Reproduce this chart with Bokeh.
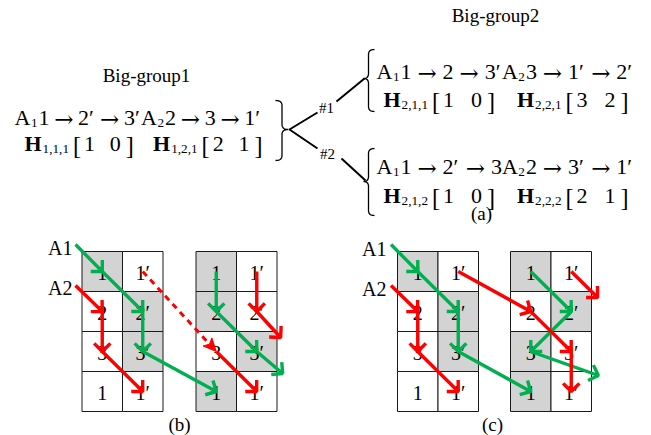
import numpy as np
from bokeh.plotting import figure
from bokeh.models import Range1d
from bokeh.embed import file_html
from bokeh.resources import INLINE
from bokeh.core.properties import value

FONT = "Liberation Serif"
ARROW_FONT = "DejaVu Serif"
GREEN = "#00B050"
RED = "#FF0000"
GRAY = "#D3D3D3"

# ---------------- data ----------------
cell_labels = [["1", "1′"], ["2", "2′"], ["3", "3′"], ["1", "1′"]]
grid_names = ["bL", "bR", "cL", "cR"]
shade_bL = [[1, 0], [0, 1], [0, 1], [0, 0]]
shade_bR = [[1, 0], [1, 0], [0, 1], [1, 0]]
shade_cL = [[1, 0], [0, 1], [0, 1], [0, 0]]
shade_cR = [[1, 0], [0, 1], [1, 0], [1, 0]]
shades = {"bL": shade_bL, "bR": shade_bR, "cL": shade_cL, "cR": shade_cR}

# paths as (grid, row, col) nodes; arrow head at every node after the first
green_paths = [
    [("bL", -0.675, -0.66), ("bL", 0, 0), ("bL", 1, 1), ("bL", 2, 1), ("bR", 3, 0)],
    [("bR", 0, 0), ("bR", 1, 0), ("bR", 2, 1), ("bR", 2.55, 1.64)],
    [("cL", -0.675, -0.66), ("cL", 0, 0), ("cL", 1, 1), ("cL", 2, 1), ("cR", 3, 0)],
    [("cR", 0, 0), ("cR", 1, 1), ("cR", 2, 0), ("cR", 2.6, 1.67)],
]
red_paths = [
    [("bL", 0.35, -0.66), ("bL", 1, 0), ("bL", 2, 0), ("bL", 3, 1)],
    [("bR", 0, 1), ("bR", 1, 1), ("bR", 1.65, 1.59)],
    [("bR", 2, 0), ("bR", 3, 1)],
    [("cL", 0.35, -0.66), ("cL", 1, 0), ("cL", 2, 0), ("cL", 3, 1)],
    [("cL", 0, 1), ("cR", 1, 0), ("cR", 2, 1), ("cR", 3, 1)],
    [("cR", 0, 1), ("cR", 0.65, 1.65)],
]
dashed_path = [("bL", 0, 1), ("bR", 2, 0)]

# formula token lists: (text, kind, gap-before)
g1_line1 = [("A", "n", 0), ("1", "s", 0.5), ("1", "n", 1), ("→", "a", "g"), ("2′", "n", "g"),
            ("→", "a", "g"), ("3′", "n", "g"), ("A", "n", 0), ("2", "s", 0.5), ("2", "n", 1),
            ("→", "a", "g"), ("3", "n", "g"), ("→", "a", "g"), ("1′", "n", "g")]
g1_line2 = [("H", "b", 0), ("1,1,1", "s", 1), ("[", "k", 4), ("1", "n", 3), ("0", "n", "g"), ("]", "k", 5),
            ("H", "b", "G"), ("1,2,1", "s", 1), ("[", "k", 4), ("2", "n", 3), ("1", "n", "g"), ("]", "k", 5)]
g21_line1 = [("A", "n", 0), ("1", "s", 0.5), ("1", "n", 1), ("→", "a", "g"), ("2", "n", "g"),
             ("→", "a", "g"), ("3′", "n", "g"), ("A", "n", 0), ("2", "s", 0.5), ("3", "n", 1),
             ("→", "a", "g"), ("1′", "n", "g"), ("→", "a", "g"), ("2′", "n", "g")]
g21_line2 = [("H", "b", 0), ("2,1,1", "s", 1), ("[", "k", 4), ("1", "n", 3), ("0", "n", "g"), ("]", "k", 5),
             ("H", "b", "G"), ("2,2,1", "s", 1), ("[", "k", 4), ("3", "n", 3), ("2", "n", "g"), ("]", "k", 5)]
g22_line1 = [("A", "n", 0), ("1", "s", 0.5), ("1", "n", 1), ("→", "a", "g"), ("2′", "n", "g"),
             ("→", "a", "g"), ("3", "n", "g"), ("A", "n", 0), ("2", "s", 0.5), ("2", "n", 1),
             ("→", "a", "g"), ("3′", "n", "g"), ("→", "a", "g"), ("1′", "n", "g")]
g22_line2 = [("H", "b", 0), ("2,1,2", "s", 1), ("[", "k", 4), ("1", "n", 3), ("0", "n", "g"), ("]", "k", 5),
             ("H", "b", "G"), ("2,2,2", "s", 1), ("[", "k", 4), ("2", "n", 3), ("1", "n", "g"), ("]", "k", 5)]

# ---------------- layout constants ----------------
GRID_LEFT = {"bL": 81.5, "bR": 195.5, "cL": 397.0, "cR": 510.0}
TOP = 251.0
CW = 40.5
CH = 40.0
FS = 22.0

p = figure(width=651, height=435, x_range=Range1d(0, 651), y_range=Range1d(435, 0),
           output_backend="svg", toolbar_location=None, min_border=0,
           min_border_left=0, min_border_right=0, min_border_top=0, min_border_bottom=0)
p.xaxis.visible = False
p.yaxis.visible = False
p.grid.visible = False
p.outline_line_color = None
p.background_fill_color = "white"


def node_xy(n):
    g, r, c = n
    return GRID_LEFT[g] + (c + 0.5) * CW, TOP + (r + 0.5) * CH


# ---- grids ----
L, R, T, B, F = [], [], [], [], []
tx, ty, tt = [], [], []
for g in grid_names:
    for r in range(4):
        for c in range(2):
            x0 = GRID_LEFT[g] + c * CW
            y0 = TOP + r * CH
            L.append(x0); R.append(x0 + CW); T.append(y0); B.append(y0 + CH)
            F.append(GRAY if shades[g][r][c] else "white")
            tx.append(x0 + CW / 2); ty.append(y0 + CH / 2 + 1); tt.append(cell_labels[r][c])
p.quad(left=L, right=R, top=T, bottom=B, fill_color=F, line_color="#1a1a1a", line_width=1)
p.text(tx, ty, text=tt, text_align="center", text_baseline="middle",
       text_font=value(FONT), text_font_size="20px", text_color="black")

# ---- arrows ----
WING = 11.5


def heads(pts):
    hx, hy = [], []
    for (x0, y0), (x1, y1) in zip(pts[:-1], pts[1:]):
        d = np.array([x0 - x1, y0 - y1])
        d = d / np.hypot(*d)
        out_x, out_y = [], []
        for ang in (np.pi / 4, -np.pi / 4):
            ca, sa = np.cos(ang), np.sin(ang)
            w = np.array([ca * d[0] - sa * d[1], sa * d[0] + ca * d[1]])
            out_x.append(x1 + WING * w[0]); out_y.append(y1 + WING * w[1])
        hx.append([out_x[0], x1, out_x[1]]); hy.append([out_y[0], y1, out_y[1]])
    return hx, hy


for paths, col in ((green_paths, GREEN), (red_paths, RED)):
    xs, ys, hxs, hys = [], [], [], []
    for path in paths:
        pts = [node_xy(n) for n in path]
        xs.append([q[0] for q in pts]); ys.append([q[1] for q in pts])
        hx, hy = heads(pts)
        hxs += hx; hys += hy
    p.multi_line(xs, ys, line_color=col, line_width=3.4)
    p.multi_line(hxs, hys, line_color=col, line_width=3.4)

dpts = [node_xy(n) for n in dashed_path]
(x0, y0), (x1, y1) = dpts
d = np.array([x1 - x0, y1 - y0]); d = d / np.hypot(*d)
nrm = np.array([-d[1], d[0]])
base = np.array([x1, y1]) - 13 * d
p.line([x0, base[0]], [y0, base[1]], line_color=RED, line_width=3, line_dash="6 5")
p.patch([x1, base[0] + 6 * nrm[0], base[0] + 3 * d[0], base[0] - 6 * nrm[0]],
        [y1, base[1] + 6 * nrm[1], base[1] + 3 * d[1], base[1] - 6 * nrm[1]],
        fill_color=RED, line_color=RED)

# ---- labels ----
p.text([72, 72, 386, 386], [247, 287, 248, 288], text=["A1", "A2", "A1", "A2"],
       text_align="right", text_baseline="middle", text_font=value(FONT), text_font_size="20px")
p.text([179, 492, 481], [424, 424, 213], text=["(b)", "(c)", "(a)"],
       text_align="center", text_baseline="middle", text_font=value(FONT), text_font_size="19px")
p.text([146, 495], [75, 15], text=["Big-group1", "Big-group2"],
       text_align="center", text_baseline="middle", text_font=value(FONT), text_font_size="19px")
p.text([326, 327], [107, 153], text=["#1", "#2"],
       text_align="center", text_baseline="middle", text_font=value(FONT), text_font_size="15px")

# ---- formulas ----
TW = {"1": .5, "2": .5, "3": .5, "0": .5, "A": .722, "H": .778, "[": .333, "]": .333,
      ",": .25, "′": .28, "→": 0.9}


def tw(s):
    return sum(TW.get(ch, .5) for ch in s)


def layout(tokens, x0, x1, size, ratio=1.3):
    sub = size * 0.6
    widths = []
    for t, k, g in tokens:
        if k == "s":
            widths.append(tw(t) * sub)
        elif k == "k":
            widths.append(tw(t) * size * 1.1)
        else:
            widths.append(tw(t) * size)
    fixed = sum(widths) + sum(g for _, _, g in tokens if g not in ("g", "G"))
    ng = sum(1 for _, _, g in tokens if g == "g") + ratio * sum(1 for _, _, g in tokens if g == "G")
    gv = (x1 - x0 - fixed) / ng if ng else 0
    out, x = [], x0
    for (t, k, g), w in zip(tokens, widths):
        x += gv if g == "g" else (gv * ratio if g == "G" else g)
        out.append((t, k, x, w))
        x += w
    return out


groups = {"n": ([], [], []), "b": ([], [], []), "s": ([], [], []), "a": ([], [], []), "k": ([], [], [])}


def place(tokens, x0, x1, base):
    for t, k, x, w in layout(tokens, x0, x1, FS):
        gx, gy, gt = groups[k]
        if k == "a":
            gx.append(x + w / 2); gy.append(base + 1)
        elif k == "s":
            gx.append(x); gy.append(base + 5)
        elif k == "k":
            gx.append(x); gy.append(base + 2)
        else:
            gx.append(x); gy.append(base)
        gt.append(t)


place(g1_line1, 14, 261, 117)
place(g1_line2, 24, 262, 143)
place(g21_line1, 376, 633, 71)
place(g21_line2, 383, 628, 99)
place(g22_line1, 376, 633, 166)
place(g22_line2, 383, 628, 195)

common = dict(text_baseline="alphabetic", text_color="black")
p.text(*groups["n"][:2], text=groups["n"][2], text_align="left", text_font=value(FONT),
       text_font_size=f"{FS}px", **common)
p.text(*groups["b"][:2], text=groups["b"][2], text_align="left", text_font=value(FONT),
       text_font_size=f"{FS}px", text_font_style="bold", **common)
p.text(*groups["s"][:2], text=groups["s"][2], text_align="left", text_font=value(FONT),
       text_font_size=f"{FS*0.6:.1f}px", **common)
p.text(*groups["a"][:2], text=groups["a"][2], text_align="center", text_font=value(ARROW_FONT),
       text_font_size="23px", **common)
p.text(*groups["k"][:2], text=groups["k"][2], text_align="left", text_font=value(FONT),
       text_font_size=f"{FS*1.1:.1f}px", **common)


# ---- braces and fork ----
def brace(x_end, x_mid, x_tip, y_top, y_tip, y_bot, n=12):
    def qb(p0, p1, p2):
        t = np.linspace(0, 1, n)
        return ((1 - t) ** 2 * p0[0] + 2 * (1 - t) * t * p1[0] + t ** 2 * p2[0],
                (1 - t) ** 2 * p0[1] + 2 * (1 - t) * t * p1[1] + t ** 2 * p2[1])
    r = 5.0
    segs = [qb((x_end, y_top), (x_mid, y_top), (x_mid, y_top + r)),
            ([x_mid, x_mid], [y_top + r, y_tip - r]),
            qb((x_mid, y_tip - r), (x_mid, y_tip), (x_tip, y_tip)),
            qb((x_tip, y_tip), (x_mid, y_tip), (x_mid, y_tip + r)),
            ([x_mid, x_mid], [y_tip + r, y_bot - r]),
            qb((x_mid, y_bot - r), (x_mid, y_bot), (x_end, y_bot))]
    xs = np.concatenate([np.asarray(s[0]) for s in segs])
    ys = np.concatenate([np.asarray(s[1]) for s in segs])
    return list(xs), list(ys)


bx, by = [], []
for args in ((275, 281.5, 288, 100, 129, 160), (374, 368, 363, 49, 78, 111), (374, 368, 363, 148, 181, 215)):
    xs, ys = brace(*args)
    bx.append(xs); by.append(ys)
p.multi_line(bx, by, line_color="black", line_width=1.3)
p.multi_line([[317, 289, 317], [336, 364], [341, 365]], [[112, 129, 148], [101, 78], [158, 180]],
             line_color="black", line_width=2)

open("out.html", "w").write(file_html(p, INLINE))
